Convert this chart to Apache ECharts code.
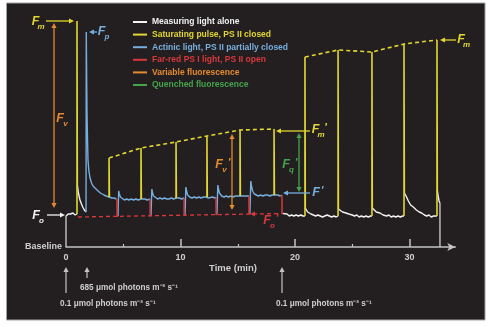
<!DOCTYPE html>
<html><head><meta charset="utf-8">
<script src="https://cdn.jsdelivr.net/npm/echarts@6/dist/echarts.min.js"></script>
<style>html,body{margin:0;padding:0;background:#fff;}#c{width:492px;height:327px;}</style>
</head><body><div id="c"></div>
<script>
// ---------- data (time in min, fluorescence in arbitrary units) ----------
const GAP = ['-', '-'];
const seriesNames = [
  'Measuring light alone',
  'Saturating pulse, PS II closed',
  'Actinic light, PS II partially closed',
  'Far-red PS I light, PS II open',
  'Variable fluorescence',
  'Quenched fluorescence'
];
const xTickLabels = [0, 10, 20, 30];
const xMinorTicks = [5, 15, 25];

const pulseTimes = [0.96, 3.76, 6.55, 9.61, 12.31, 15.20, 18.17, 20.87, 23.76, 26.72, 29.52, 32.40];
const pulseBase  = [33, 50, 48, 49, 50, 51, 52, 31, 31, 31, 31, 31];
const pulsePeak  = [226, 89, 99, 105, 111, 117, 118, 190, 197, 195, 203, 207];
const pulseAfter = [62, 50, 48, 49, 50, 51, 52, 39, 38, 39, 54, 57];

const dipTimes = [4.45, 7.34, 10.31, 13.10, 15.98, 18.86];
const dipFrom  = [48, 48, 49, 50, 51, 52];
const dipTo    = [30.7, 31.2, 31.8, 32.4, 32.9, 33.5];

const foPrimeLine = [[1.05, 30], [18.86, 33.5]];
const startEndDrops = [[0, 0], [0, 31], GAP, [32.66, 44], [32.66, 0]];

const whiteTrace = [
  [0, 31], [0.1, 32], [0.2, 33], [0.3, 32], [0.4, 33], [0.5, 32], [0.6, 34], [0.7, 33], [0.8, 32], [0.96, 33], GAP,
  [0.99, 62], [1.1, 53], [1.22, 47], [1.35, 43], [1.46, 40], [1.6, 37], [1.75, 35], GAP,
  [18.95, 33.5], [19.1, 32], [19.3, 33], [19.5, 31], [19.7, 32], [19.9, 31], [20.1, 32], [20.3, 31], [20.5, 32], [20.7, 31], [20.87, 31], GAP,
  [20.9, 39], [21.0, 37], [21.1, 35], [21.25, 34], [21.4, 33], [21.6, 32], [21.8, 31], [22.0, 32], [22.2, 31], [22.4, 30], [22.6, 31], [22.8, 32], [23.0, 31], [23.2, 30], [23.4, 31], [23.6, 30], [23.76, 31], GAP,
  [23.79, 38], [23.95, 37], [24.15, 35], [24.45, 34], [24.7, 33], [25.0, 32], [25.2, 31], [25.4, 32], [25.6, 30], [25.8, 31], [26.0, 30], [26.2, 31], [26.4, 30], [26.6, 31], [26.72, 31], GAP,
  [26.75, 39], [26.9, 37], [27.1, 35], [27.42, 34], [27.7, 32], [28.0, 31], [28.2, 32], [28.4, 30], [28.6, 31], [28.8, 30], [29.0, 31], [29.2, 30], [29.4, 31], [29.52, 31], GAP,
  [29.55, 54], [29.7, 51], [29.9, 46], [30.1, 42], [30.33, 40], [30.6, 37], [30.85, 35], [31.06, 34], [31.3, 32], [31.5, 31], [31.7, 32], [31.9, 30], [32.1, 31], [32.25, 30], [32.40, 31], GAP,
  [32.43, 57], [32.5, 51], [32.58, 46], [32.66, 44]
];

const blueTrace = [
  [1.75, 35], [1.77, 215], [1.83, 137], [1.88, 107], [1.92, 87], [2.0, 76], [2.10, 69], [2.23, 64], [2.36, 61], [2.5, 59], [2.71, 57], [2.85, 55], [3.0, 54], [3.15, 53], [3.32, 52], [3.5, 51], [3.65, 51], [3.76, 50],
  [3.8, 50], [3.9, 48], [4.0, 49], [4.1, 48], [4.2, 49], [4.3, 47], [4.4, 48], [4.45, 48], GAP,
  [4.54, 30.7], [4.6, 56], [4.66, 53], [4.75, 50], [4.9, 48], [5.1, 47], [5.3, 48], [5.5, 47], [5.7, 48], [5.9, 47], [6.1, 48], [6.3, 47], [6.55, 48], [6.7, 47], [6.9, 48], [7.1, 47], [7.25, 48], [7.34, 48], GAP,
  [7.42, 31.2], [7.5, 58], [7.56, 54], [7.65, 51], [7.8, 49], [8.0, 48], [8.2, 49], [8.4, 48], [8.6, 49], [8.8, 48], [9.0, 48], [9.2, 49], [9.4, 48], [9.61, 49], [9.75, 48], [9.9, 49], [10.1, 48], [10.31, 49], GAP,
  [10.39, 31.8], [10.47, 60], [10.53, 56], [10.62, 52], [10.8, 50], [11.0, 49], [11.2, 50], [11.4, 49], [11.6, 50], [11.8, 49], [12.0, 50], [12.2, 50], [12.31, 50], [12.45, 49], [12.6, 50], [12.8, 50], [13.0, 49], [13.10, 50], GAP,
  [13.18, 32.4], [13.26, 62], [13.32, 58], [13.4, 54], [13.6, 51], [13.8, 50], [14.0, 51], [14.2, 50], [14.4, 51], [14.6, 50], [14.8, 51], [15.0, 51], [15.2, 51], [15.35, 50], [15.5, 51], [15.7, 51], [15.85, 50], [15.98, 51], GAP,
  [16.06, 32.9], [16.14, 66], [16.2, 61], [16.3, 56], [16.45, 53], [16.6, 52], [16.8, 51], [17.0, 52], [17.2, 51], [17.4, 52], [17.6, 52], [17.8, 51], [18.0, 52], [18.17, 52], [18.3, 52], [18.5, 52], [18.7, 51], [18.86, 52]
];

// ---------- styles ----------
const C = {
  bg: '#231f20', white: '#f2f2f2', gray: '#c4c4c4', yellow: '#e2d630',
  blue: '#78aedd', red: '#d8383c', orange: '#e58a2e', green: '#45a34c', text: '#cfcfcf'
};
const FONT = 'Liberation Sans, Arial, sans-serif';

// ---------- build series data from the arrays ----------
const yellowData = [];
pulseTimes.forEach((t, i) => {
  yellowData.push([t, pulseBase[i]], [t, pulsePeak[i]], [t + 0.03, pulsePeak[i]], [t + 0.03, pulseAfter[i]], GAP);
});
const tops1 = [], tops2 = [];
for (let i = 1; i <= 6; i++) tops1.push([pulseTimes[i], pulsePeak[i]]);
for (let i = 7; i <= 11; i++) tops2.push([pulseTimes[i], pulsePeak[i]]);
const redData = [];
dipTimes.forEach((t, i) => {
  redData.push([t, dipFrom[i]], [t + 0.01, dipTo[i]], [t + 0.09, dipTo[i]], GAP);
});

function lineSeries(name, data, color, extra) {
  return Object.assign({
    type: 'line', name, data, showSymbol: false, symbol: 'none', animation: false,
    connectNulls: false, silent: true,
    lineStyle: { color, width: 1.5 }, itemStyle: { color }
  }, extra || {});
}

const chart = echarts.init(document.getElementById('c'), null, { renderer: 'canvas' });

// ---------- annotation helpers (pixel layout) ----------
function head(xt, yt, ux, uy, color) {
  const L = 5, W = 2.6;
  return { type: 'polygon', z: 20, silent: true,
    shape: { points: [[xt, yt], [xt - ux * L - uy * W, yt - uy * L + ux * W], [xt - ux * L + uy * W, yt - uy * L - ux * W]] },
    style: { fill: color } };
}
function arrow(x1, y1, x2, y2, color, both, width) {
  const d = Math.hypot(x2 - x1, y2 - y1), ux = (x2 - x1) / d, uy = (y2 - y1) / d;
  const out = [{ type: 'line', z: 19, silent: true,
    shape: { x1: both ? x1 + ux * 3 : x1, y1: both ? y1 + uy * 3 : y1, x2: x2 - ux * 3, y2: y2 - uy * 3 },
    style: { stroke: color, lineWidth: width || 1.3 } }, head(x2, y2, ux, uy, color)];
  if (both) out.push(head(x1, y1, -ux, -uy, color));
  return out;
}
function flabel(x, y, color, sub, prime) {
  const out = [{ type: 'text', x, y, z: 21, silent: true,
    style: { text: 'F', fill: color, font: 'italic bold 12.5px ' + FONT, align: 'center', verticalAlign: 'middle' } }];
  if (sub) out.push({ type: 'text', x: x + 5.5, y: y + 5, z: 21, silent: true,
    style: { text: sub, fill: color, font: 'italic bold 8px ' + FONT, align: 'center', verticalAlign: 'middle' } });
  if (prime) out.push({ type: 'text', x: x + (sub ? 10 : 6), y: y - 2, z: 21, silent: true,
    style: { text: "'", fill: color, font: 'italic bold 11px ' + FONT, align: 'center', verticalAlign: 'middle' } });
  return out;
}
function txt(x, y, s, size, align, color) {
  return { type: 'text', x, y, z: 21, silent: true,
    style: { text: s, fill: color || C.text, font: 'bold ' + size + 'px ' + FONT, align: align || 'left', verticalAlign: 'middle' } };
}

const graphics = [].concat(
  [{ type: 'rect', z: -100, silent: true, shape: { x: 6.5, y: 3, width: 478.5, height: 317 },
     style: { fill: C.bg, stroke: '#a0a0a0', lineWidth: 1 } }],
  arrow(46, 21, 74, 21, C.yellow), flabel(35.5, 22, C.yellow, 'm'),
  arrow(54, 208, 54, 23, C.orange, true), flabel(60, 119, C.orange, 'v'),
  arrow(97, 32, 89, 32, C.blue), flabel(101.5, 31.5, C.blue, 'p'),
  arrow(47, 215, 65, 215, C.white), flabel(36, 216, C.white, 'o'),
  arrow(456, 40, 440, 40, C.yellow), flabel(461, 40, C.yellow, 'm'),
  arrow(310, 131, 276, 131, C.yellow), flabel(315.5, 130, C.yellow, 'm', true),
  arrow(232, 210, 232, 134, C.orange, true), flabel(219, 164.5, C.orange, 'v', true),
  arrow(299, 192, 299, 133, C.green, true), flabel(286, 165, C.green, 'q', true),
  arrow(310, 193, 283, 193, C.blue), flabel(316, 193, C.blue, null, true),
  [head(250, 214, -1, 0, C.red)], flabel(267, 221, C.red, 'o', true),
  arrow(66, 293, 66, 267, C.gray, false, 1.2),
  arrow(87, 278, 87, 267, C.gray, false, 1.2),
  arrow(282, 293, 282, 267, C.gray, false, 1.2),
  [txt(62, 247, 'Baseline', 9, 'right'),
   txt(233, 268, 'Time (min)', 9.5, 'center'),
   txt(80, 288, '685 μmol photons m⁻² s⁻¹', 8.2),
   txt(60, 304, '0.1 μmol photons m⁻² s⁻¹', 8.2),
   txt(276, 304, '0.1 μmol photons m⁻² s⁻¹', 8.2)]
);

const legendColors = [C.white, C.yellow, C.blue, C.red, C.orange, C.green];

chart.setOption({
  animation: false,
  backgroundColor: 'transparent',
  grid: { left: 66, right: 36.7, top: 7, bottom: 80, containLabel: false, outerBoundsMode: 'none' },
  legend: {
    orient: 'vertical', left: 133, top: 17, padding: 0, itemWidth: 14, itemHeight: 2, itemGap: 2.6,
    icon: 'rect', selectedMode: false,
    textStyle: { fontSize: 8.5, lineHeight: 10, fontWeight: 'bold', fontFamily: FONT },
    data: seriesNames.map((n, i) => ({ name: n, textStyle: { color: legendColors[i] }, itemStyle: { color: legendColors[i] } }))
  },
  xAxis: [{
    type: 'value', min: 0, max: 34, position: 'bottom',
    axisLine: { show: true, onZero: false, symbol: ['none', 'arrow'], symbolSize: [6, 8], lineStyle: { color: C.gray, width: 1.5 } },
    axisTick: { show: true, inside: true, length: 8, customValues: [10, 20, 30], lineStyle: { color: C.gray, width: 1.5 } },
    axisLabel: { show: true, customValues: xTickLabels, color: C.text, fontWeight: 'bold', fontSize: 9, fontFamily: FONT, margin: 6 },
    splitLine: { show: false }
  }, {
    type: 'value', min: 0, max: 34, position: 'bottom', gridIndex: 0,
    axisLine: { show: false },
    axisTick: { show: true, inside: true, length: 3, customValues: xMinorTicks, lineStyle: { color: C.gray, width: 1.2 } },
    axisLabel: { show: false }, splitLine: { show: false }
  }],
  yAxis: { type: 'value', min: 0, max: 240, show: false },
  series: [
    lineSeries('trace-edges', startEndDrops, C.gray, { z: 2, lineStyle: { color: C.gray, width: 1.4 } }),
    lineSeries(seriesNames[0], whiteTrace, C.white, { z: 3, lineStyle: { color: C.white, width: 1.4 } }),
    lineSeries(seriesNames[2], blueTrace, C.blue, { z: 3, lineStyle: { color: C.blue, width: 1.4 } }),
    lineSeries(seriesNames[1], yellowData, C.yellow, { z: 4, lineStyle: { color: C.yellow, width: 1.6 } }),
    lineSeries(seriesNames[1], tops1, C.yellow, { z: 4, lineStyle: { color: C.yellow, width: 1.6, type: [4, 3] } }),
    lineSeries(seriesNames[1], tops2, C.yellow, { z: 4, lineStyle: { color: C.yellow, width: 1.6, type: [4, 3] } }),
    lineSeries(seriesNames[3], redData, C.red, { z: 5, lineStyle: { color: C.red, width: 1.5 } }),
    lineSeries(seriesNames[3], foPrimeLine, C.red, { z: 5, lineStyle: { color: C.red, width: 1.3, type: [4, 3] } }),
    lineSeries(seriesNames[4], [], C.orange),
    lineSeries(seriesNames[5], [], C.green)
  ],
  graphic: graphics
});
</script></body></html>
